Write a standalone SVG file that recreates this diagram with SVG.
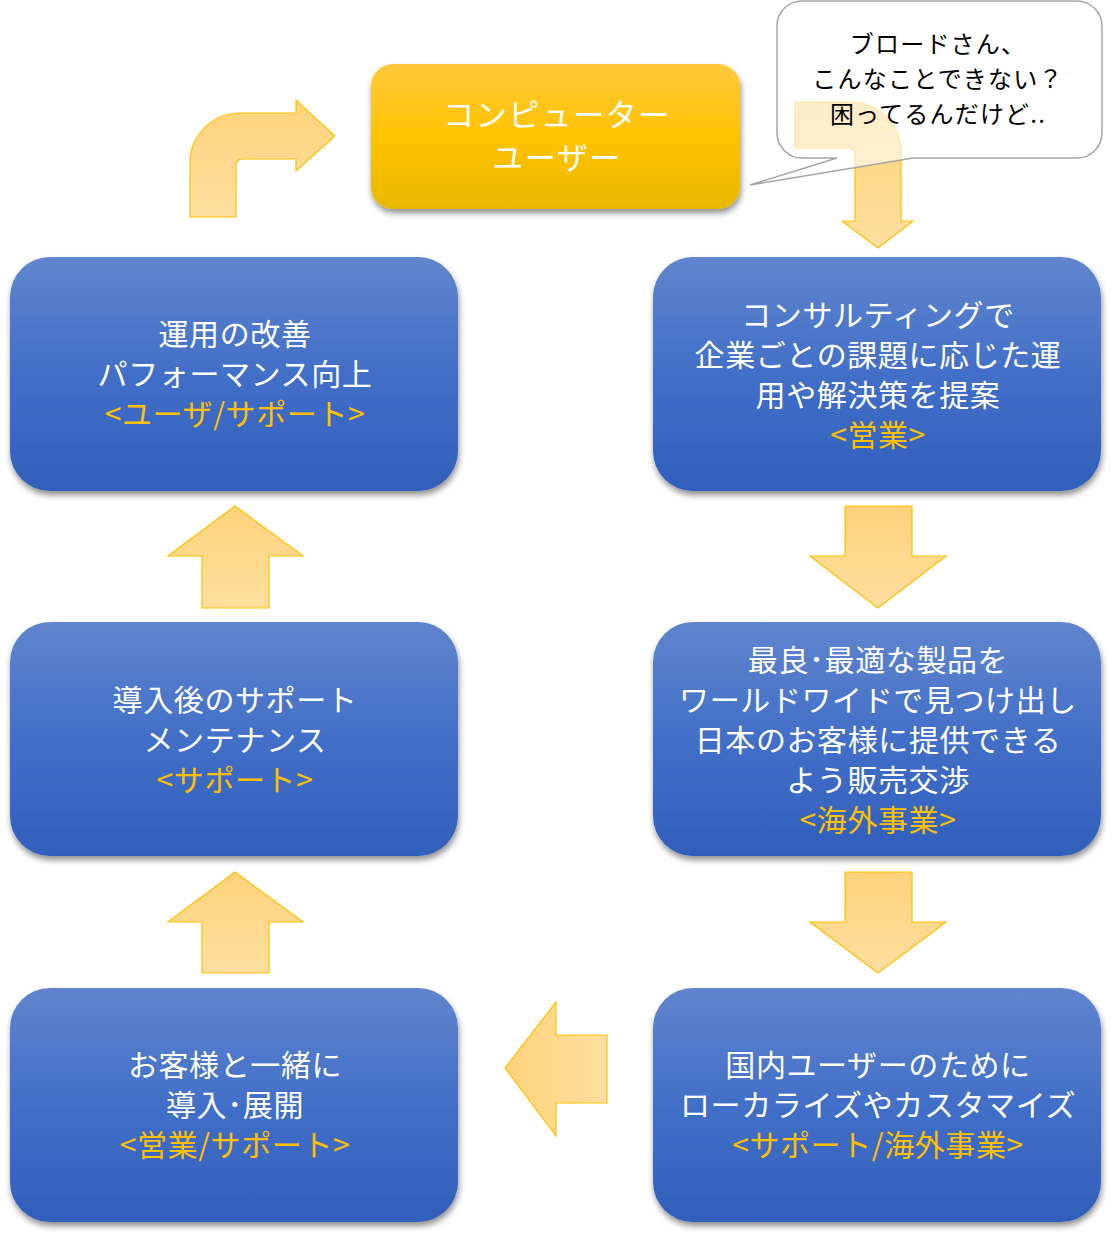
<svg xmlns="http://www.w3.org/2000/svg" width="1112" height="1236" viewBox="0 0 1112 1236">
<defs>
<linearGradient id="blue" x1="0" y1="0" x2="0" y2="1">
<stop offset="0" stop-color="#6085CD"/>
<stop offset="0.5" stop-color="#426FC8"/>
<stop offset="1" stop-color="#2F5FBA"/>
</linearGradient>
<linearGradient id="gold" x1="0" y1="0" x2="0" y2="1">
<stop offset="0" stop-color="#FFC93C"/>
<stop offset="0.5" stop-color="#FFC300"/>
<stop offset="1" stop-color="#E8B800"/>
</linearGradient>
<linearGradient id="arrV" x1="0" y1="0" x2="0" y2="1">
<stop offset="0" stop-color="#FDD27A"/>
<stop offset="1" stop-color="#FEDFA0"/>
</linearGradient>
<linearGradient id="arrH" x1="0" y1="0" x2="1" y2="0">
<stop offset="0" stop-color="#FDD27A"/>
<stop offset="1" stop-color="#FEDFA0"/>
</linearGradient>
<filter id="sh" x="-10%" y="-10%" width="120%" height="125%">
<feGaussianBlur in="SourceAlpha" stdDeviation="3"/>
<feOffset dx="1" dy="4" result="b"/>
<feComponentTransfer><feFuncA type="linear" slope="0.45"/></feComponentTransfer>
<feMerge><feMergeNode/><feMergeNode in="SourceGraphic"/></feMerge>
</filter>
</defs>
<style>
.box{fill:url(#blue);filter:url(#sh)}
.t{font-family:"Noto Sans CJK JP","Noto Sans",sans-serif;font-size:30px;letter-spacing:0.6px;fill:#FFFFFF;text-anchor:middle}
.o{fill:#FFC000}
.u{font-size:31px;letter-spacing:1.5px}
.arr{stroke:#FFC000;stroke-width:1.2}
.b{font-family:"Noto Sans CJK JP","Noto Sans",sans-serif;font-size:24px;letter-spacing:1.2px;fill:#000000;text-anchor:middle}
</style>

<g id="connectors">
<path class="arr" fill="url(#arrV)" d="M190,217 L190,163 A50,50 0 0 1 240,113 L296,113 L296,100 L335,136 L296,171 L296,159 L242,159 A6,6 0 0 0 236,165 L236,217 Z"/>
<path class="arr" fill="url(#arrV)" d="M795,102 L851,102 A50,50 0 0 1 901,152 L901,221 L913,221 L878,248 L842,221 L855,221 L855,154 A6,6 0 0 0 849,148 L795,148 Z"/>
<path class="arr" fill="url(#arrV)" d="M845,506 L912,506 L912,556 L946,556 L878,608 L810,556 L845,556 Z"/>
<path class="arr" fill="url(#arrV)" d="M845,872 L912,872 L912,922 L946,922 L878,973 L810,922 L845,922 Z"/>
<path class="arr" fill="url(#arrH)" d="M505,1068 L556,1002 L556,1035 L607,1035 L607,1103 L556,1103 L556,1136 Z"/>
<path class="arr" fill="url(#arrV)" d="M269,973 L202,973 L202,922 L168,922 L235,872 L303,922 L269,922 Z"/>
<path class="arr" fill="url(#arrV)" d="M269,608 L202,608 L202,556 L168,556 L235,506 L303,556 L269,556 Z"/>
</g>

<g id="bubble">
<path d="M802,1 L1077,1 A25,25 0 0 1 1102,26 L1102,133 A25,25 0 0 1 1077,158 L913,158 L750,185 L837,158 L802,158 A25,25 0 0 1 777,133 L777,26 A25,25 0 0 1 802,1 Z" fill="#FFFFFF" fill-opacity="0.6" stroke="#A6A6A6" stroke-width="1.5"/>
<text class="b" x="938" y="53">ブロードさん、</text>
<text class="b" x="938" y="88">こんなことできない？</text>
<text class="b" x="938" y="123">困ってるんだけど..</text>
</g>

<g id="user">
<rect x="371" y="64" width="369" height="145" rx="22" fill="url(#gold)" filter="url(#sh)"/>
<text class="t u" x="557" y="126">コンピューター</text>
<text class="t u" x="557" y="169">ユーザー</text>
</g>

<g id="consulting">
<rect class="box" x="653" y="257" width="448" height="234" rx="40"/>
<text class="t" x="878" y="326">コンサルティングで</text>
<text class="t" x="878" y="366">企業ごとの課題に応じた運</text>
<text class="t" x="878" y="406">用や解決策を提案</text>
<text class="t o" x="878" y="446">&lt;営業&gt;</text>
</g>

<g id="overseas">
<rect class="box" x="653" y="622" width="448" height="234" rx="40"/>
<text class="t" x="878" y="671">最良･最適な製品を</text>
<text class="t" x="878" y="711">ワールドワイドで見つけ出し</text>
<text class="t" x="878" y="751">日本のお客様に提供できる</text>
<text class="t" x="878" y="791">よう販売交渉</text>
<text class="t o" x="878" y="831">&lt;海外事業&gt;</text>
</g>

<g id="localize">
<rect class="box" x="653" y="988" width="448" height="234" rx="40"/>
<text class="t" x="878" y="1076">国内ユーザーのために</text>
<text class="t" x="878" y="1116">ローカライズやカスタマイズ</text>
<text class="t o" x="878" y="1156">&lt;サポート/海外事業&gt;</text>
</g>

<g id="deploy">
<rect class="box" x="10" y="988" width="448" height="234" rx="40"/>
<text class="t" x="235" y="1076">お客様と一緒に</text>
<text class="t" x="235" y="1116">導入･展開</text>
<text class="t o" x="235" y="1156">&lt;営業/サポート&gt;</text>
</g>

<g id="maintenance">
<rect class="box" x="10" y="622" width="448" height="234" rx="40"/>
<text class="t" x="235" y="711">導入後のサポート</text>
<text class="t" x="235" y="751">メンテナンス</text>
<text class="t o" x="235" y="791">&lt;サポート&gt;</text>
</g>

<g id="improve">
<rect class="box" x="10" y="257" width="448" height="234" rx="40"/>
<text class="t" x="235" y="345">運用の改善</text>
<text class="t" x="235" y="385">パフォーマンス向上</text>
<text class="t o" x="235" y="425">&lt;ユーザ/サポート&gt;</text>
</g>
</svg>
